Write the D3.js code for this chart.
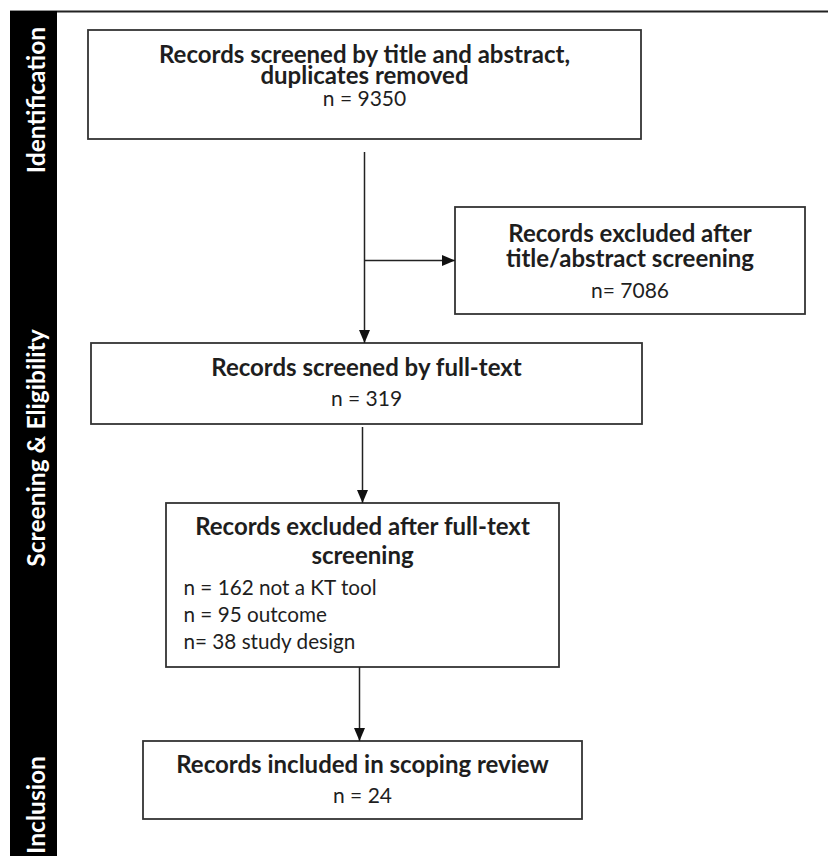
<!DOCTYPE html>
<html>
<head>
<meta charset="utf-8">
<script src="https://cdn.jsdelivr.net/npm/d3@7"></script>
<style>
  body { margin: 0; background: #fff; }
  svg text { font-family: Lato, "Open Sans", sans-serif; fill: #1e1e1e; }
</style>
</head>
<body>
<div id="flow"></div>
<script>
// chart content
var stageLabels = ["Identification", "Screening & Eligibility", "Inclusion"];
var boxHeadings = [
  ["Records screened by title and abstract,", "duplicates removed"],
  ["Records excluded after", "title/abstract screening"],
  ["Records screened by full-text"],
  ["Records excluded after full-text", "screening"],
  ["Records included in scoping review"]
];
var boxCounts = ["n = 9350", "n= 7086", "n = 319", null, "n = 24"];
var fullTextReasons = ["n = 162 not a KT tool", "n = 95 outcome", "n= 38 study design"];

// page size
var width = 828,
    height = 856;

// geometry of the diagram (boxes, baselines of each text line)
var boxes = [
  {x: 88,  y: 30,  w: 553, h: 109, lines: [63, 83.5], count: 105.5},
  {x: 455, y: 207, w: 350, h: 107, lines: [241.5, 266.8], count: 297.5},
  {x: 91,  y: 343, w: 551, h: 81,  lines: [376], count: 406},
  {x: 166, y: 503, w: 393, h: 164, lines: [535, 563.5], reasons: [595, 622.3, 649]},
  {x: 143, y: 741, w: 439, h: 78,  lines: [772.7], count: 802.7}
];
var stageCentres = [100, 448, 805];

var arrows = [
  [[364.5, 152], [364.5, 343]],
  [[364.5, 260.5], [455, 260.5]],
  [[362.5, 427], [362.5, 503]],
  [[359.5, 667], [359.5, 741]]
];

var svg = d3.select("#flow").append("svg")
    .attr("width", width)
    .attr("height", height);

// arrow head
svg.append("defs").append("marker")
    .attr("id", "head")
    .attr("markerUnits", "userSpaceOnUse")
    .attr("viewBox", "0 0 13 12")
    .attr("refX", 13)
    .attr("refY", 6)
    .attr("markerWidth", 13)
    .attr("markerHeight", 12)
    .attr("orient", "auto")
  .append("path")
    .attr("d", "M0,0.5 L13,6 L0,11.5 Z")
    .attr("fill", "#111");

// top rule and black side band
svg.append("line")
    .attr("x1", 10).attr("x2", width)
    .attr("y1", 11.5).attr("y2", 11.5)
    .attr("stroke", "#222")
    .attr("stroke-width", 1.8);

svg.append("rect")
    .attr("x", 10).attr("y", 11)
    .attr("width", 47).attr("height", height - 11)
    .attr("fill", "#000");

svg.selectAll(".stage")
    .data(stageLabels)
  .enter().append("text")
    .attr("class", "stage")
    .attr("transform", function(d, i) { return "translate(45," + stageCentres[i] + ") rotate(-90)"; })
    .attr("text-anchor", "middle")
    .style("fill", "#fff")
    .style("font-weight", "bold")
    .style("font-size", "24.6px")
    .text(function(d) { return d; });

// boxes
var g = svg.selectAll(".box")
    .data(boxes)
  .enter().append("g")
    .attr("class", "box");

g.append("rect")
    .attr("x", function(d) { return d.x; })
    .attr("y", function(d) { return d.y; })
    .attr("width", function(d) { return d.w; })
    .attr("height", function(d) { return d.h; })
    .attr("fill", "#fff")
    .attr("stroke", "#333")
    .attr("stroke-width", 1.8);

g.each(function(d, i) {
  var cx = d.x + d.w / 2;

  // one text block per box: bold heading lines, then the count
  var label = d3.select(this).append("text")
      .attr("text-anchor", "middle");

  boxHeadings[i].forEach(function(t, j) {
    label.append("tspan")
        .attr("x", cx)
        .attr("y", d.lines[j])
        .style("font-weight", "bold")
        .style("font-size", "24px")
        .text(t);
  });

  if (boxCounts[i]) {
    label.append("tspan")
        .attr("x", cx)
        .attr("y", d.count)
        .style("font-size", "21px")
        .text(boxCounts[i]);
  }

  if (d.reasons) {
    var list = d3.select(this).append("text")
        .style("font-size", "20.7px");
    fullTextReasons.forEach(function(t, j) {
      list.append("tspan")
          .attr("x", d.x + 17.5)
          .attr("y", d.reasons[j])
          .text(t);
    });
  }
});

// connectors
svg.selectAll(".arrow")
    .data(arrows)
  .enter().append("path")
    .attr("class", "arrow")
    .attr("d", d3.line())
    .attr("fill", "none")
    .attr("stroke", "#222")
    .attr("stroke-width", 1.5)
    .attr("marker-end", "url(#head)");
</script>
</body>
</html>
